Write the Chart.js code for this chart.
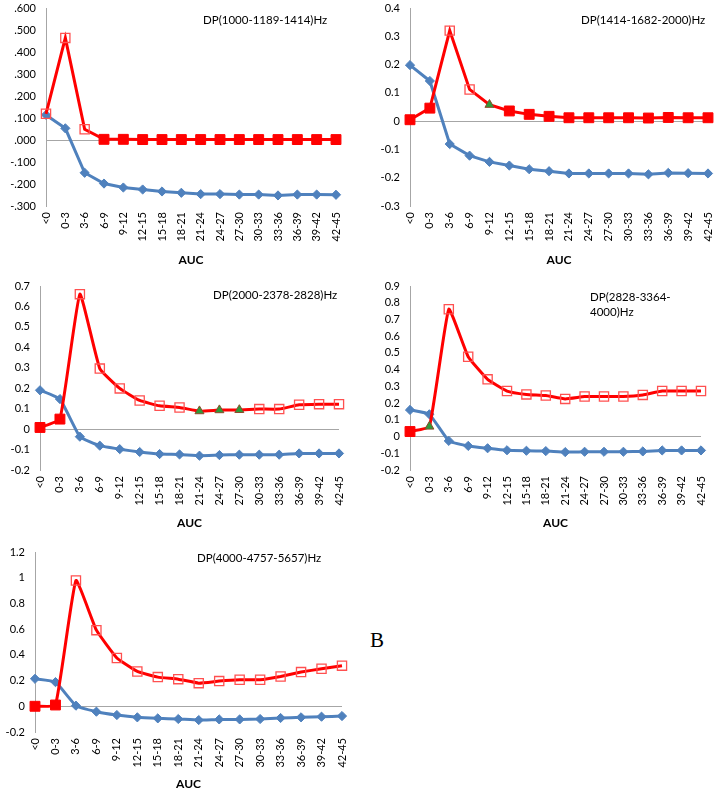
<!DOCTYPE html>
<html>
<head>
<meta charset="utf-8">
<script src="https://cdn.jsdelivr.net/npm/chart.js@4.4.0/dist/chart.umd.min.js"></script>
<style>
body { margin: 0; background: #fff; }
#page { position: relative; width: 718px; height: 793px; overflow: hidden; font-family: Lato, sans-serif; }
canvas { position: absolute; }
.lbl { position: absolute; font-size: 11.5px; line-height: 15px; color: #000; white-space: nowrap; }
#B { position: absolute; left: 370px; top: 630px; font-family: 'Liberation Serif', serif; font-size: 21px; line-height: 21px; }
</style>
</head>
<body>
<div id="page">
  <canvas id="c1" width="350" height="267" style="left:0px;top:0px"></canvas>
  <canvas id="c2" width="360" height="267" style="left:358px;top:0px"></canvas>
  <canvas id="c3" width="350" height="258" style="left:0px;top:272px"></canvas>
  <canvas id="c4" width="360" height="258" style="left:358px;top:272px"></canvas>
  <canvas id="c5" width="350" height="256" style="left:0px;top:535px"></canvas>

  <div class="lbl" style="left:203px;top:12px">DP(1000-1189-1414)Hz</div>
  <div class="lbl" style="left:581px;top:12px">DP(1414-1682-2000)Hz</div>
  <div class="lbl" style="left:213px;top:287px">DP(2000-2378-2828)Hz</div>
  <div class="lbl" style="left:590px;top:289px">DP(2828-3364-<br>4000)Hz</div>
  <div class="lbl" style="left:197px;top:550px">DP(4000-4757-5657)Hz</div>
  <div id="B">B</div>
</div>

<script>
// AUC bins on the x axis
const categories = ['<0','0-3','3-6','6-9','9-12','12-15','15-18','18-21','21-24','24-27','27-30','30-33','33-36','36-39','39-42','42-45'];

// marker kinds for the red series: o = open square, f = filled square, t = green triangle
const blue1 = [0.114, 0.053, -0.149, -0.198, -0.216, -0.225, -0.234, -0.240, -0.246, -0.246, -0.248, -0.248, -0.252, -0.248, -0.248, -0.249];
const red1  = [0.119, 0.464, 0.049, 0.003, 0.003, 0.002, 0.002, 0.002, 0.002, 0.002, 0.002, 0.002, 0.002, 0.002, 0.002, 0.002];
const marks1 = ['o','o','o','f','f','f','f','f','f','f','f','f','f','f','f','f'];

const blue2 = [0.198, 0.142, -0.081, -0.122, -0.144, -0.157, -0.170, -0.177, -0.185, -0.185, -0.185, -0.185, -0.188, -0.183, -0.184, -0.185];
const red2  = [0.005, 0.046, 0.320, 0.112, 0.058, 0.036, 0.024, 0.017, 0.012, 0.012, 0.012, 0.012, 0.011, 0.013, 0.012, 0.012];
const marks2 = ['f','f','o','o','t','f','f','f','f','f','f','f','f','f','f','f'];

const blue3 = [0.190, 0.147, -0.037, -0.081, -0.098, -0.112, -0.122, -0.124, -0.130, -0.127, -0.125, -0.125, -0.125, -0.119, -0.119, -0.119];
const red3  = [0.008, 0.049, 0.660, 0.296, 0.199, 0.140, 0.114, 0.106, 0.088, 0.093, 0.094, 0.098, 0.098, 0.119, 0.122, 0.122];
const marks3 = ['f','f','o','o','o','o','o','o','t','t','t','o','o','o','o','o'];

const blue4 = [0.159, 0.133, -0.026, -0.056, -0.070, -0.082, -0.085, -0.087, -0.093, -0.091, -0.091, -0.091, -0.089, -0.083, -0.083, -0.083];
const red4  = [0.030, 0.060, 0.761, 0.477, 0.342, 0.272, 0.252, 0.245, 0.225, 0.239, 0.239, 0.239, 0.249, 0.272, 0.272, 0.272];
const marks4 = ['f','t','o','o','o','o','o','o','o','o','o','o','o','o','o','o'];

const blue5 = [0.214, 0.188, 0.005, -0.042, -0.068, -0.086, -0.094, -0.099, -0.107, -0.102, -0.102, -0.099, -0.091, -0.086, -0.081, -0.076];
const red5  = [0.000, 0.010, 0.978, 0.592, 0.376, 0.271, 0.227, 0.211, 0.180, 0.196, 0.206, 0.206, 0.232, 0.266, 0.292, 0.316];
const marks5 = ['f','f','o','o','o','o','o','o','o','o','o','o','o','o','o','o'];

const BLUE = '#4f81bd';
const RED = '#ff0000';

Chart.defaults.font.family = 'Lato, sans-serif';
Chart.defaults.font.size = 11;
Chart.defaults.color = '#000';

function redMarkers(marks) {
  return {
    pointStyle: marks.map(m => m == 't' ? 'triangle' : 'rect'),
    pointRadius: marks.map(m => m == 'f' ? 7 : (m == 't' ? 5.2 : 6.5)),
    pointBackgroundColor: marks.map(m => m == 'f' ? RED : (m == 't' ? '#2f9a3a' : 'rgba(0,0,0,0)')),
    pointBorderColor: marks.map(m => m == 'f' ? RED : (m == 't' ? '#8c4a2a' : '#ff5050')),
    pointBorderWidth: marks.map(m => m == 'o' ? 1.3 : 1)
  };
}

// excel style ".600" / "-.100"
const dotFmt = v => Number(v).toFixed(3).replace('0.', '.');
// "0.4", "0", "-0.1", "1"
const plainFmt = v => String(parseFloat(Number(v).toFixed(2)));

function makeChart(id, blue, red, marks, yMin, yMax, yStep, box, fmt, smooth) {
  new Chart(document.getElementById(id), {
    type: 'line',
    data: {
      labels: categories,
      datasets: [
        Object.assign({ data: red, borderColor: RED, borderWidth: 3, tension: smooth, clip: false }, redMarkers(marks)),
        { data: blue, borderColor: BLUE, backgroundColor: BLUE, borderWidth: 3, tension: smooth, clip: false,
          pointStyle: 'rectRot', pointRadius: 4.6, pointBorderWidth: 1, pointBorderColor: BLUE, pointBackgroundColor: BLUE }
      ]
    },
    options: {
      responsive: false,
      animation: false,
      events: [],
      layout: { padding: { top: box.pt, right: box.pr, left: 0, bottom: 0 } },
      plugins: { legend: { display: false }, tooltip: { enabled: false } },
      scales: {
        x: {
          grid: { display: false, drawTicks: false },
          border: { display: false },
          ticks: { color: '#000', autoSkip: false, minRotation: 90, maxRotation: 90, padding: 6 },
          title: { display: true, text: 'AUC', color: '#000', font: { size: 12, weight: 'bold' }, padding: 0 },
          afterFit: s => { s.height = box.hx; s.paddingLeft = 0; s.paddingRight = 0; }
        },
        y: {
          min: yMin, max: yMax,
          ticks: { stepSize: yStep, color: '#000', padding: 10, autoSkip: false, callback: fmt },
          grid: { drawTicks: false, color: c => Math.abs(c.tick.value) < 1e-9 ? '#a6a6a6' : 'rgba(0,0,0,0)' },
          border: { color: '#a6a6a6' },
          afterFit: s => { s.width = box.wy; s.paddingTop = 0; s.paddingBottom = 0; }
        }
      }
    }
  });
}

makeChart('c1', blue1, red1, marks1, -0.3, 0.6, 0.1, { wy: 46, pt: 8, pr: 14, hx: 61 }, dotFmt, 0);
makeChart('c2', blue2, red2, marks2, -0.3, 0.4, 0.1, { wy: 52, pt: 8, pr: 10, hx: 61 }, plainFmt, 0);
makeChart('c3', blue3, red3, marks3, -0.2, 0.7, 0.1, { wy: 40, pt: 14, pr: 11, hx: 60 }, plainFmt, 0.12);
makeChart('c4', blue4, red4, marks4, -0.2, 0.9, 0.1, { wy: 52, pt: 14, pr: 17, hx: 60 }, plainFmt, 0.12);
makeChart('c5', blue5, red5, marks5, -0.2, 1.2, 0.2, { wy: 35, pt: 17, pr: 7, hx: 59 }, plainFmt, 0.12);
</script>
</body>
</html>
